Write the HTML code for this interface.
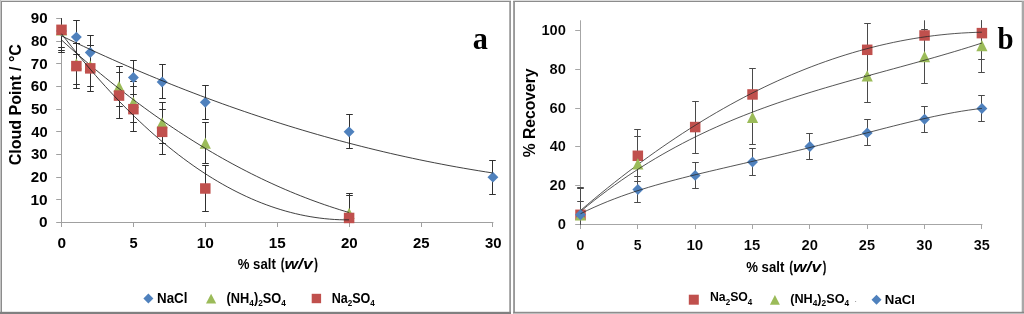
<!DOCTYPE html>
<html lang="en"><head><meta charset="utf-8"><title>Figure</title>
<style>html,body{margin:0;padding:0;background:#fff}body{width:1024px;height:314px;overflow:hidden}svg text{font-family:"Liberation Sans",sans-serif}</style>
</head><body>
<svg width="1024" height="314" viewBox="0 0 1024 314" style="display:block">
<rect width="1024" height="314" fill="#fff"/>
<rect x="0" y="0" width="511" height="1" fill="#dcdcdc"/>
<rect x="0" y="0" width="1" height="314" fill="#c2c2c2"/>
<rect x="1" y="1" width="510" height="1" fill="#8c8c8c"/>
<rect x="1" y="1" width="1" height="313" fill="#8c8c8c"/>
<rect x="509.3" y="1" width="1.6" height="313" fill="#8e8e8e"/>
<rect x="0" y="311.8" width="511" height="2.2" fill="#808080"/>
<rect x="513.3" y="0" width="510.7" height="1" fill="#dcdcdc"/>
<rect x="513.3" y="1" width="510.7" height="1" fill="#8c8c8c"/>
<rect x="513.2" y="1" width="1.7" height="313" fill="#8e8e8e"/>
<rect x="1021.7" y="1" width="2.3" height="313" fill="#a8a8a8"/>
<rect x="513.3" y="311.8" width="510.7" height="1.1" fill="#7c7c7c"/>
<rect x="513.3" y="312.9" width="510.7" height="1.1" fill="#bdbdbd"/>
<g stroke="#a0a0a0" stroke-width="1" fill="none"><path d="M61.5 18.5V227" /><path d="M56.2 222.5H493.4" /><path d="M133.5 222.5V227" /><path d="M205.5 222.5V227" /><path d="M277.5 222.5V227" /><path d="M349.5 222.5V227" /><path d="M421.5 222.5V227" /><path d="M492.5 222.5V227" /><path d="M56.2 199.5H61.5" /><path d="M56.2 177.5H61.5" /><path d="M56.2 154.5H61.5" /><path d="M56.2 131.5H61.5" /><path d="M56.2 109.5H61.5" /><path d="M56.2 86.5H61.5" /><path d="M56.2 63.5H61.5" /><path d="M56.2 41.5H61.5" /><path d="M56.2 18.5H61.5" /></g>
<path d="M58.2 47.5H64.8M61.5 18.5V47.5M73.2 20.5H79.8M73.2 54.5H79.8M76.5 20.5V54.5M87.2 35.5H93.8M87.2 69.5H93.8M90.5 35.5V69.5M130.2 60.5H136.8M130.2 94.5H136.8M133.5 60.5V94.5M159.2 64.5H165.8M159.2 98.5H165.8M162.5 64.5V98.5M202.2 85.5H208.8M202.2 119.5H208.8M205.5 85.5V119.5M346.2 114.5H352.8M346.2 148.5H352.8M349.5 114.5V148.5M489.2 160.5H495.8M489.2 194.5H495.8M492.5 160.5V194.5M58.2 50.5H64.8M61.5 18.5V50.5M73.2 43.5H79.8M73.2 84.5H79.8M76.5 43.5V84.5M87.2 45.5H93.8M87.2 86.5H93.8M90.5 45.5V86.5M116.2 66.5H122.8M116.2 106.5H122.8M119.5 66.5V106.5M130.2 81.5H136.8M130.2 122.5H136.8M133.5 81.5V122.5M159.2 102.5H165.8M159.2 143.5H165.8M162.5 102.5V143.5M202.2 122.5H208.8M202.2 163.5H208.8M205.5 122.5V163.5M346.2 193.5H352.8M349.5 193.5V222.5M58.2 52.5H64.8M61.5 18.5V52.5M73.2 43.5H79.8M73.2 88.5H79.8M76.5 43.5V88.5M87.2 45.5H93.8M87.2 91.5H93.8M90.5 45.5V91.5M116.2 72.5H122.8M116.2 118.5H122.8M119.5 72.5V118.5M130.2 86.5H136.8M130.2 131.5H136.8M133.5 86.5V131.5M159.2 109.5H165.8M159.2 154.5H165.8M162.5 109.5V154.5M202.2 165.5H208.8M202.2 211.5H208.8M205.5 165.5V211.5M346.2 195.5H352.8M349.5 195.5V222.5" stroke="#303030" stroke-width="1" fill="none"/>
<path d="M61.5 25.52L66.95 30.97L61.5 36.42L56.05 30.97Z" fill="#4f81bd"/>
<path d="M76.38 31.64L81.83 37.09L76.38 42.54L70.93 37.09Z" fill="#4f81bd"/>
<path d="M90.26 47.05L95.71 52.5L90.26 57.95L84.81 52.5Z" fill="#4f81bd"/>
<path d="M133.4 71.98L138.85 77.43L133.4 82.88L127.95 77.43Z" fill="#4f81bd"/>
<path d="M162.16 76.52L167.61 81.97L162.16 87.42L156.71 81.97Z" fill="#4f81bd"/>
<path d="M205.3 96.92L210.75 102.37L205.3 107.82L199.85 102.37Z" fill="#4f81bd"/>
<path d="M349.1 126.38L354.55 131.83L349.1 137.28L343.65 131.83Z" fill="#4f81bd"/>
<path d="M492.9 171.72L498.35 177.17L492.9 182.62L487.45 177.17Z" fill="#4f81bd"/>
<path d="M61.5 35.87L68.81 39.38L76.12 42.86L83.44 46.3L90.75 49.69L98.06 53.04L105.37 56.35L112.68 59.62L119.99 62.85L127.31 66.04L134.62 69.19L141.93 72.3L149.24 75.36L156.55 78.38L163.87 81.37L171.18 84.31L178.49 87.21L185.8 90.07L193.11 92.89L200.43 95.66L207.74 98.4L215.05 101.09L222.36 103.75L229.67 106.36L236.98 108.93L244.3 111.46L251.61 113.95L258.92 116.39L266.23 118.8L273.54 121.17L280.86 123.49L288.17 125.77L295.48 128.01L302.79 130.21L310.1 132.37L317.42 134.49L324.73 136.57L332.04 138.6L339.35 140.6L346.66 142.55L353.97 144.46L361.29 146.34L368.6 148.17L375.91 149.95L383.22 151.7L390.53 153.41L397.85 155.07L405.16 156.7L412.47 158.28L419.78 159.82L427.09 161.32L434.41 162.78L441.72 164.2L449.03 165.58L456.34 166.92L463.65 168.21L470.96 169.46L478.28 170.68L485.59 171.85L492.9 172.98" stroke="#1e1e1e" stroke-width="0.85" fill="none"/>
<path d="M61.5 24.23L67.1 35.43L55.9 35.43Z" fill="#9bbb59"/>
<path d="M76.38 58.23L81.98 69.43L70.78 69.43Z" fill="#9bbb59"/>
<path d="M90.26 60.5L95.86 71.7L84.66 71.7Z" fill="#9bbb59"/>
<path d="M119.02 80.9L124.62 92.1L113.42 92.1Z" fill="#9bbb59"/>
<path d="M133.4 96.77L139 107.97L127.8 107.97Z" fill="#9bbb59"/>
<path d="M162.16 117.17L167.76 128.37L156.56 128.37Z" fill="#9bbb59"/>
<path d="M205.3 137.57L210.9 148.77L199.7 148.77Z" fill="#9bbb59"/>
<path d="M349.1 207.83L354.7 219.03L343.5 219.03Z" fill="#9bbb59"/>
<path d="M61.5 39.96L66.37 44.36L71.25 48.7L76.12 53L81 57.25L85.87 61.44L90.75 65.58L95.62 69.68L100.5 73.72L105.37 77.71L110.25 81.65L115.12 85.54L119.99 89.38L124.87 93.17L129.74 96.9L134.62 100.59L139.49 104.23L144.37 107.81L149.24 111.35L154.12 114.83L158.99 118.26L163.87 121.64L168.74 124.98L173.62 128.26L178.49 131.49L183.36 134.66L188.24 137.79L193.11 140.87L197.99 143.9L202.86 146.87L207.74 149.8L212.61 152.67L217.49 155.5L222.36 158.27L227.24 160.99L232.11 163.66L236.98 166.28L241.86 168.85L246.73 171.37L251.61 173.84L256.48 176.26L261.36 178.62L266.23 180.94L271.11 183.2L275.98 185.42L280.86 187.58L285.73 189.7L290.61 191.76L295.48 193.77L300.35 195.73L305.23 197.64L310.1 199.5L314.98 201.31L319.85 203.06L324.73 204.77L329.6 206.43L334.48 208.03L339.35 209.59L344.23 211.09L349.1 212.54" stroke="#1e1e1e" stroke-width="0.85" fill="none"/>
<rect x="56.25" y="24.58" width="10.5" height="10.5" fill="#c0504d"/>
<rect x="71.13" y="60.85" width="10.5" height="10.5" fill="#c0504d"/>
<rect x="85.01" y="63.12" width="10.5" height="10.5" fill="#c0504d"/>
<rect x="113.77" y="90.32" width="10.5" height="10.5" fill="#c0504d"/>
<rect x="128.15" y="103.92" width="10.5" height="10.5" fill="#c0504d"/>
<rect x="156.91" y="126.58" width="10.5" height="10.5" fill="#c0504d"/>
<rect x="200.05" y="183.25" width="10.5" height="10.5" fill="#c0504d"/>
<rect x="343.85" y="212.72" width="10.5" height="10.5" fill="#c0504d"/>
<path d="M61.5 33.77L66.37 40.05L71.25 46.22L76.12 52.29L81 58.25L85.87 64.1L90.75 69.84L95.62 75.47L100.5 81L105.37 86.41L110.25 91.72L115.12 96.93L119.99 102.02L124.87 107.01L129.74 111.89L134.62 116.66L139.49 121.32L144.37 125.88L149.24 130.33L154.12 134.67L158.99 138.9L163.87 143.02L168.74 147.04L173.62 150.95L178.49 154.75L183.36 158.44L188.24 162.03L193.11 165.51L197.99 168.88L202.86 172.14L207.74 175.29L212.61 178.34L217.49 181.28L222.36 184.11L227.24 186.83L232.11 189.45L236.98 191.95L241.86 194.35L246.73 196.65L251.61 198.83L256.48 200.91L261.36 202.88L266.23 204.74L271.11 206.49L275.98 208.14L280.86 209.67L285.73 211.1L290.61 212.42L295.48 213.64L300.35 214.74L305.23 215.74L310.1 216.63L314.98 217.42L319.85 218.09L324.73 218.66L329.6 219.12L334.48 219.47L339.35 219.71L344.23 219.85L349.1 219.88" stroke="#1e1e1e" stroke-width="0.85" fill="none"/>
<text transform="translate(39.09,227.2) scale(1.0977,1)" fill="#000" ><tspan font-family="Liberation Sans, sans-serif" font-weight="bold" font-style="normal" font-size="14">0</tspan></text>
<text transform="translate(30.47,204.53) scale(1.1033,1)" fill="#000" ><tspan font-family="Liberation Sans, sans-serif" font-weight="bold" font-style="normal" font-size="14">10</tspan></text>
<text transform="translate(30.87,181.87) scale(1.0766,1)" fill="#000" ><tspan font-family="Liberation Sans, sans-serif" font-weight="bold" font-style="normal" font-size="14">20</tspan></text>
<text transform="translate(31.03,159.2) scale(1.0663,1)" fill="#000" ><tspan font-family="Liberation Sans, sans-serif" font-weight="bold" font-style="normal" font-size="14">30</tspan></text>
<text transform="translate(31.18,136.53) scale(1.0562,1)" fill="#000" ><tspan font-family="Liberation Sans, sans-serif" font-weight="bold" font-style="normal" font-size="14">40</tspan></text>
<text transform="translate(30.95,113.87) scale(1.0714,1)" fill="#000" ><tspan font-family="Liberation Sans, sans-serif" font-weight="bold" font-style="normal" font-size="14">50</tspan></text>
<text transform="translate(30.87,91.2) scale(1.0766,1)" fill="#000" ><tspan font-family="Liberation Sans, sans-serif" font-weight="bold" font-style="normal" font-size="14">60</tspan></text>
<text transform="translate(30.79,68.53) scale(1.0818,1)" fill="#000" ><tspan font-family="Liberation Sans, sans-serif" font-weight="bold" font-style="normal" font-size="14">70</tspan></text>
<text transform="translate(30.95,45.87) scale(1.0714,1)" fill="#000" ><tspan font-family="Liberation Sans, sans-serif" font-weight="bold" font-style="normal" font-size="14">80</tspan></text>
<text transform="translate(30.87,23.2) scale(1.0766,1)" fill="#000" ><tspan font-family="Liberation Sans, sans-serif" font-weight="bold" font-style="normal" font-size="14">90</tspan></text>
<text transform="translate(57.44,248) scale(1.0977,1)" fill="#000" ><tspan font-family="Liberation Sans, sans-serif" font-weight="bold" font-style="normal" font-size="14">0</tspan></text>
<text transform="translate(129.51,248) scale(1.0429,1)" fill="#000" ><tspan font-family="Liberation Sans, sans-serif" font-weight="bold" font-style="normal" font-size="14">5</tspan></text>
<text transform="translate(196.77,248) scale(1.1033,1)" fill="#000" ><tspan font-family="Liberation Sans, sans-serif" font-weight="bold" font-style="normal" font-size="14">10</tspan></text>
<text transform="translate(268.69,248) scale(1.0871,1)" fill="#000" ><tspan font-family="Liberation Sans, sans-serif" font-weight="bold" font-style="normal" font-size="14">15</tspan></text>
<text transform="translate(340.97,248) scale(1.0766,1)" fill="#000" ><tspan font-family="Liberation Sans, sans-serif" font-weight="bold" font-style="normal" font-size="14">20</tspan></text>
<text transform="translate(412.88,248) scale(1.0612,1)" fill="#000" ><tspan font-family="Liberation Sans, sans-serif" font-weight="bold" font-style="normal" font-size="14">25</tspan></text>
<text transform="translate(484.93,248) scale(1.0663,1)" fill="#000" ><tspan font-family="Liberation Sans, sans-serif" font-weight="bold" font-style="normal" font-size="14">30</tspan></text>
<text transform="translate(237.67,268.8) scale(0.9424,1)" fill="#000" ><tspan font-family="Liberation Sans, sans-serif" font-weight="bold" font-style="normal" font-size="14">% salt</tspan></text>
<text transform="translate(280.92,268.8) scale(0.6888,1)" fill="#000" stroke="#000" stroke-width="0.4"><tspan font-family="Liberation Sans, sans-serif" font-weight="bold" font-style="normal" font-size="14">(</tspan></text>
<text transform="translate(284.42,268.8) scale(1.2506,1)" fill="#000" ><tspan font-family="Liberation Sans, sans-serif" font-weight="bold" font-style="italic" font-size="14">w/v</tspan></text>
<text transform="translate(314.5,268.8) scale(0.6767,1)" fill="#000" stroke="#000" stroke-width="0.4"><tspan font-family="Liberation Sans, sans-serif" font-weight="bold" font-style="normal" font-size="14">)</tspan></text>
<text transform="translate(21.2,165.24) rotate(-90) scale(0.9318,1)" fill="#000" ><tspan font-family="Liberation Sans, sans-serif" font-weight="bold" font-style="normal" font-size="17.2">Cloud Point / °C</tspan></text>
<path d="M148.4 293.4L153.4 298.4L148.4 303.4L143.4 298.4Z" fill="#4f81bd"/>
<text transform="translate(157.03,302.8) scale(0.9524,1)" fill="#000" ><tspan font-family="Liberation Sans, sans-serif" font-weight="bold" font-style="normal" font-size="14">NaCl</tspan></text>
<path d="M211.1 293.7L216.2 303.5L206 303.5Z" fill="#9bbb59"/>
<text transform="translate(226.56,302.9) scale(0.9151,1)" fill="#000" ><tspan font-family="Liberation Sans, sans-serif" font-weight="bold" font-style="normal" font-size="14">(NH</tspan><tspan font-family="Liberation Sans, sans-serif" font-weight="bold" font-style="normal" font-size="9" dy="2.7">4</tspan><tspan font-family="Liberation Sans, sans-serif" font-weight="bold" font-style="normal" font-size="14" dy="-2.7">)</tspan><tspan font-family="Liberation Sans, sans-serif" font-weight="bold" font-style="normal" font-size="9" dy="2.7">2</tspan><tspan font-family="Liberation Sans, sans-serif" font-weight="bold" font-style="normal" font-size="14" dy="-2.7">SO</tspan><tspan font-family="Liberation Sans, sans-serif" font-weight="bold" font-style="normal" font-size="9" dy="2.7">4</tspan></text>
<rect x="311.7" y="293.8" width="9.4" height="9.4" fill="#c0504d"/>
<text transform="translate(331.68,302.8) scale(0.8967,1)" fill="#000" ><tspan font-family="Liberation Sans, sans-serif" font-weight="bold" font-style="normal" font-size="14">Na</tspan><tspan font-family="Liberation Sans, sans-serif" font-weight="bold" font-style="normal" font-size="9" dy="2.7">2</tspan><tspan font-family="Liberation Sans, sans-serif" font-weight="bold" font-style="normal" font-size="14" dy="-2.7">SO</tspan><tspan font-family="Liberation Sans, sans-serif" font-weight="bold" font-style="normal" font-size="9" dy="2.7">4</tspan></text>
<text transform="translate(472.79,48.6) scale(0.9784,1)" fill="#000" ><tspan font-family="Liberation Serif, sans-serif" font-weight="bold" font-style="normal" font-size="31">a</tspan></text>
<g stroke="#a6a6a6" stroke-width="1" fill="none"><path d="M580.5 20.31V229" /><path d="M575.2 224.5H982.4" /><path d="M637.5 224.5V229" /><path d="M695.5 224.5V229" /><path d="M752.5 224.5V229" /><path d="M809.5 224.5V229" /><path d="M867.5 224.5V229" /><path d="M924.5 224.5V229" /><path d="M981.5 224.5V229" /><path d="M575.2 185.5H580.5" /><path d="M575.2 146.5H580.5" /><path d="M575.2 108.5H580.5" /><path d="M575.2 69.5H580.5" /><path d="M575.2 30.5H580.5" /></g>
<path d="M577.2 188.5H583.8M580.5 188.5V224.5M634.2 129.5H640.8M634.2 181.5H640.8M637.5 129.5V181.5M692.2 101.5H698.8M692.2 153.5H698.8M695.5 101.5V153.5M749.2 68.5H755.8M749.2 120.5H755.8M752.5 68.5V120.5M864.2 23.5H870.8M864.2 75.5H870.8M867.5 23.5V75.5M921.2 61.5H927.8M924.5 20.31V61.5M978.2 59.5H984.8M981.5 20.31V59.5M577.2 187.5H583.8M580.5 187.5V224.5M634.2 136.5H640.8M634.2 191.5H640.8M637.5 136.5V191.5M749.2 90.5H755.8M749.2 144.5H755.8M752.5 90.5V144.5M864.2 48.5H870.8M864.2 102.5H870.8M867.5 48.5V102.5M921.2 29.5H927.8M921.2 83.5H927.8M924.5 29.5V83.5M978.2 72.5H984.8M981.5 20.31V72.5M577.2 201.5H583.8M580.5 201.5V224.5M634.2 176.5H640.8M634.2 202.5H640.8M637.5 176.5V202.5M692.2 162.5H698.8M692.2 188.5H698.8M695.5 162.5V188.5M749.2 148.5H755.8M749.2 175.5H755.8M752.5 148.5V175.5M806.2 133.5H812.8M806.2 159.5H812.8M809.5 133.5V159.5M864.2 119.5H870.8M864.2 145.5H870.8M867.5 119.5V145.5M921.2 106.5H927.8M921.2 132.5H927.8M924.5 106.5V132.5M978.2 95.5H984.8M978.2 121.5H984.8M981.5 95.5V121.5" stroke="#4a4a4a" stroke-width="1" fill="none"/>
<rect x="575.25" y="209.55" width="10.5" height="10.5" fill="#c0504d"/>
<rect x="632.59" y="150.54" width="10.5" height="10.5" fill="#c0504d"/>
<rect x="689.94" y="121.81" width="10.5" height="10.5" fill="#c0504d"/>
<rect x="747.28" y="89.2" width="10.5" height="10.5" fill="#c0504d"/>
<rect x="861.96" y="44.56" width="10.5" height="10.5" fill="#c0504d"/>
<rect x="919.31" y="30.2" width="10.5" height="10.5" fill="#c0504d"/>
<rect x="976.65" y="27.87" width="10.5" height="10.5" fill="#c0504d"/>
<path d="M580.5 210.46L587.3 204.66L594.11 198.96L600.91 193.35L607.71 187.83L614.52 182.41L621.32 177.09L628.12 171.85L634.93 166.71L641.73 161.67L648.53 156.72L655.34 151.86L662.14 147.1L668.94 142.44L675.75 137.87L682.55 133.39L689.35 129.01L696.16 124.73L702.96 120.54L709.76 116.45L716.57 112.45L723.37 108.55L730.17 104.74L736.98 101.03L743.78 97.41L750.58 93.9L757.39 90.47L764.19 87.15L770.99 83.92L777.8 80.79L784.6 77.75L791.41 74.81L798.21 71.97L805.01 69.22L811.82 66.57L818.62 64.02L825.42 61.57L832.23 59.21L839.03 56.95L845.83 54.79L852.64 52.73L859.44 50.76L866.24 48.89L873.05 47.12L879.85 45.45L886.65 43.88L893.46 42.4L900.26 41.02L907.06 39.74L913.87 38.56L920.67 37.48L927.47 36.5L934.28 35.62L941.08 34.83L947.88 34.15L954.69 33.56L961.49 33.07L968.29 32.69L975.1 32.4L981.9 32.21" stroke="#2a2a2a" stroke-width="0.8" fill="none"/>
<path d="M580.5 209.2L586.1 220.4L574.9 220.4Z" fill="#9bbb59"/>
<path d="M637.84 158.34L643.44 169.54L632.24 169.54Z" fill="#9bbb59"/>
<path d="M752.53 111.76L758.13 122.96L746.93 122.96Z" fill="#9bbb59"/>
<path d="M867.21 70.22L872.81 81.42L861.61 81.42Z" fill="#9bbb59"/>
<path d="M924.56 51L930.16 62.2L918.96 62.2Z" fill="#9bbb59"/>
<path d="M981.9 39.94L987.5 51.14L976.3 51.14Z" fill="#9bbb59"/>
<path d="M580.5 211.48L587.3 205.9L594.11 200.48L600.91 195.23L607.71 190.13L614.52 185.19L621.32 180.39L628.12 175.74L634.93 171.24L641.73 166.87L648.53 162.64L655.34 158.54L662.14 154.57L668.94 150.72L675.75 146.99L682.55 143.38L689.35 139.88L696.16 136.49L702.96 133.21L709.76 130.02L716.57 126.94L723.37 123.95L730.17 121.05L736.98 118.23L743.78 115.5L750.58 112.85L757.39 110.27L764.19 107.76L770.99 105.32L777.8 102.95L784.6 100.64L791.41 98.38L798.21 96.18L805.01 94.02L811.82 91.91L818.62 89.85L825.42 87.82L832.23 85.82L839.03 83.86L845.83 81.92L852.64 80L859.44 78.11L866.24 76.23L873.05 74.36L879.85 72.5L886.65 70.65L893.46 68.79L900.26 66.93L907.06 65.07L913.87 63.19L920.67 61.3L927.47 59.4L934.28 57.47L941.08 55.51L947.88 53.53L954.69 51.51L961.49 49.46L968.29 47.36L975.1 45.23L981.9 43.04" stroke="#2a2a2a" stroke-width="0.8" fill="none"/>
<path d="M580.5 209.35L585.95 214.8L580.5 220.25L575.05 214.8Z" fill="#4f81bd"/>
<path d="M637.84 184.11L643.29 189.56L637.84 195.01L632.39 189.56Z" fill="#4f81bd"/>
<path d="M695.19 169.94L700.64 175.39L695.19 180.84L689.74 175.39Z" fill="#4f81bd"/>
<path d="M752.53 156.55L757.98 162L752.53 167.45L747.08 162Z" fill="#4f81bd"/>
<path d="M809.87 141.02L815.32 146.47L809.87 151.92L804.42 146.47Z" fill="#4f81bd"/>
<path d="M867.21 127.43L872.66 132.88L867.21 138.33L861.76 132.88Z" fill="#4f81bd"/>
<path d="M924.56 113.85L930.01 119.3L924.56 124.75L919.11 119.3Z" fill="#4f81bd"/>
<path d="M981.9 102.98L987.35 108.43L981.9 113.88L976.45 108.43Z" fill="#4f81bd"/>
<path d="M580.5 213.74L587.3 210.41L594.11 207.27L600.91 204.3L607.71 201.48L614.52 198.82L621.32 196.29L628.12 193.88L634.93 191.59L641.73 189.4L648.53 187.31L655.34 185.3L662.14 183.37L668.94 181.51L675.75 179.7L682.55 177.95L689.35 176.23L696.16 174.56L702.96 172.92L709.76 171.3L716.57 169.69L723.37 168.11L730.17 166.53L736.98 164.95L743.78 163.38L750.58 161.8L757.39 160.22L764.19 158.62L770.99 157.02L777.8 155.4L784.6 153.76L791.41 152.11L798.21 150.45L805.01 148.77L811.82 147.07L818.62 145.35L825.42 143.62L832.23 141.88L839.03 140.12L845.83 138.36L852.64 136.59L859.44 134.81L866.24 133.04L873.05 131.27L879.85 129.51L886.65 127.76L893.46 126.03L900.26 124.33L907.06 122.66L913.87 121.02L920.67 119.43L927.47 117.89L934.28 116.4L941.08 114.99L947.88 113.65L954.69 112.39L961.49 111.23L968.29 110.18L975.1 109.23L981.9 108.42" stroke="#2a2a2a" stroke-width="0.8" fill="none"/>
<text transform="translate(557.71,229) scale(1.0526,1)" fill="#000" stroke="#fff" stroke-width="0.1"><tspan font-family="Liberation Sans, sans-serif" font-weight="bold" font-style="normal" font-size="14">0</tspan></text>
<text transform="translate(549.48,190.18) scale(1.0559,1)" fill="#000" stroke="#fff" stroke-width="0.1"><tspan font-family="Liberation Sans, sans-serif" font-weight="bold" font-style="normal" font-size="14">20</tspan></text>
<text transform="translate(549.78,151.36) scale(1.0359,1)" fill="#000" stroke="#fff" stroke-width="0.1"><tspan font-family="Liberation Sans, sans-serif" font-weight="bold" font-style="normal" font-size="14">40</tspan></text>
<text transform="translate(549.48,112.54) scale(1.0559,1)" fill="#000" stroke="#fff" stroke-width="0.1"><tspan font-family="Liberation Sans, sans-serif" font-weight="bold" font-style="normal" font-size="14">60</tspan></text>
<text transform="translate(549.56,73.72) scale(1.0508,1)" fill="#000" stroke="#fff" stroke-width="0.1"><tspan font-family="Liberation Sans, sans-serif" font-weight="bold" font-style="normal" font-size="14">80</tspan></text>
<text transform="translate(541.42,34.9) scale(1.0497,1)" fill="#000" stroke="#fff" stroke-width="0.1"><tspan font-family="Liberation Sans, sans-serif" font-weight="bold" font-style="normal" font-size="14">100</tspan></text>
<text transform="translate(576.21,249.8) scale(1.0526,1)" fill="#000" stroke="#fff" stroke-width="0.1"><tspan font-family="Liberation Sans, sans-serif" font-weight="bold" font-style="normal" font-size="14">0</tspan></text>
<text transform="translate(633.72,249.8) scale(1.0000,1)" fill="#000" stroke="#fff" stroke-width="0.1"><tspan font-family="Liberation Sans, sans-serif" font-weight="bold" font-style="normal" font-size="14">5</tspan></text>
<text transform="translate(686.43,249.8) scale(1.0820,1)" fill="#000" stroke="#fff" stroke-width="0.1"><tspan font-family="Liberation Sans, sans-serif" font-weight="bold" font-style="normal" font-size="14">10</tspan></text>
<text transform="translate(743.78,249.8) scale(1.0662,1)" fill="#000" stroke="#fff" stroke-width="0.1"><tspan font-family="Liberation Sans, sans-serif" font-weight="bold" font-style="normal" font-size="14">15</tspan></text>
<text transform="translate(801.5,249.8) scale(1.0559,1)" fill="#000" stroke="#fff" stroke-width="0.1"><tspan font-family="Liberation Sans, sans-serif" font-weight="bold" font-style="normal" font-size="14">20</tspan></text>
<text transform="translate(858.85,249.8) scale(1.0408,1)" fill="#000" stroke="#fff" stroke-width="0.1"><tspan font-family="Liberation Sans, sans-serif" font-weight="bold" font-style="normal" font-size="14">25</tspan></text>
<text transform="translate(916.34,249.8) scale(1.0458,1)" fill="#000" stroke="#fff" stroke-width="0.1"><tspan font-family="Liberation Sans, sans-serif" font-weight="bold" font-style="normal" font-size="14">30</tspan></text>
<text transform="translate(973.69,249.8) scale(1.0310,1)" fill="#000" stroke="#fff" stroke-width="0.1"><tspan font-family="Liberation Sans, sans-serif" font-weight="bold" font-style="normal" font-size="14">35</tspan></text>
<text transform="translate(746.17,271.8) scale(0.9424,1)" fill="#000" ><tspan font-family="Liberation Sans, sans-serif" font-weight="bold" font-style="normal" font-size="14">% salt</tspan></text>
<text transform="translate(789.42,271.8) scale(0.6888,1)" fill="#000" stroke="#000" stroke-width="0.4"><tspan font-family="Liberation Sans, sans-serif" font-weight="bold" font-style="normal" font-size="14">(</tspan></text>
<text transform="translate(792.92,271.8) scale(1.2506,1)" fill="#000" ><tspan font-family="Liberation Sans, sans-serif" font-weight="bold" font-style="italic" font-size="14">w/v</tspan></text>
<text transform="translate(823,271.8) scale(0.6767,1)" fill="#000" stroke="#000" stroke-width="0.4"><tspan font-family="Liberation Sans, sans-serif" font-weight="bold" font-style="normal" font-size="14">)</tspan></text>
<text transform="translate(535.3,157.29) rotate(-90) scale(0.8998,1)" fill="#000" ><tspan font-family="Liberation Sans, sans-serif" font-weight="bold" font-style="normal" font-size="17.4">% Recovery</tspan></text>
<rect x="688.8" y="294.7" width="10" height="10" fill="#c0504d"/>
<text transform="translate(710,301.3) scale(0.9441,1)" fill="#000" ><tspan font-family="Liberation Sans, sans-serif" font-weight="bold" font-style="normal" font-size="13">Na</tspan><tspan font-family="Liberation Sans, sans-serif" font-weight="bold" font-style="normal" font-size="8.5" dy="3.3">2</tspan><tspan font-family="Liberation Sans, sans-serif" font-weight="bold" font-style="normal" font-size="13" dy="-3.3">SO</tspan><tspan font-family="Liberation Sans, sans-serif" font-weight="bold" font-style="normal" font-size="8.5" dy="3.3">4</tspan></text>
<path d="M774.9 294.9L779.9 304.7L769.9 304.7Z" fill="#9bbb59"/>
<text transform="translate(790.17,303.1) scale(0.9544,1)" fill="#000" ><tspan font-family="Liberation Sans, sans-serif" font-weight="bold" font-style="normal" font-size="13.3">(NH</tspan><tspan font-family="Liberation Sans, sans-serif" font-weight="bold" font-style="normal" font-size="8.7" dy="3">4</tspan><tspan font-family="Liberation Sans, sans-serif" font-weight="bold" font-style="normal" font-size="13.3" dy="-3">)</tspan><tspan font-family="Liberation Sans, sans-serif" font-weight="bold" font-style="normal" font-size="8.7" dy="3">2</tspan><tspan font-family="Liberation Sans, sans-serif" font-weight="bold" font-style="normal" font-size="13.3" dy="-3">SO</tspan><tspan font-family="Liberation Sans, sans-serif" font-weight="bold" font-style="normal" font-size="8.7" dy="3">4</tspan></text>
<text x="854.8" y="302.3" font-family="Liberation Sans, sans-serif" font-size="7" fill="#444">.</text>
<path d="M876.5 294.8L881.5 299.8L876.5 304.8L871.5 299.8Z" fill="#4f81bd"/>
<text transform="translate(884.84,303.6) scale(0.9735,1)" fill="#000" ><tspan font-family="Liberation Sans, sans-serif" font-weight="bold" font-style="normal" font-size="13.6">NaCl</tspan></text>
<text transform="translate(997.41,49) scale(0.9326,1)" fill="#000" ><tspan font-family="Liberation Serif, sans-serif" font-weight="bold" font-style="normal" font-size="31">b</tspan></text>
</svg>
</body></html>
